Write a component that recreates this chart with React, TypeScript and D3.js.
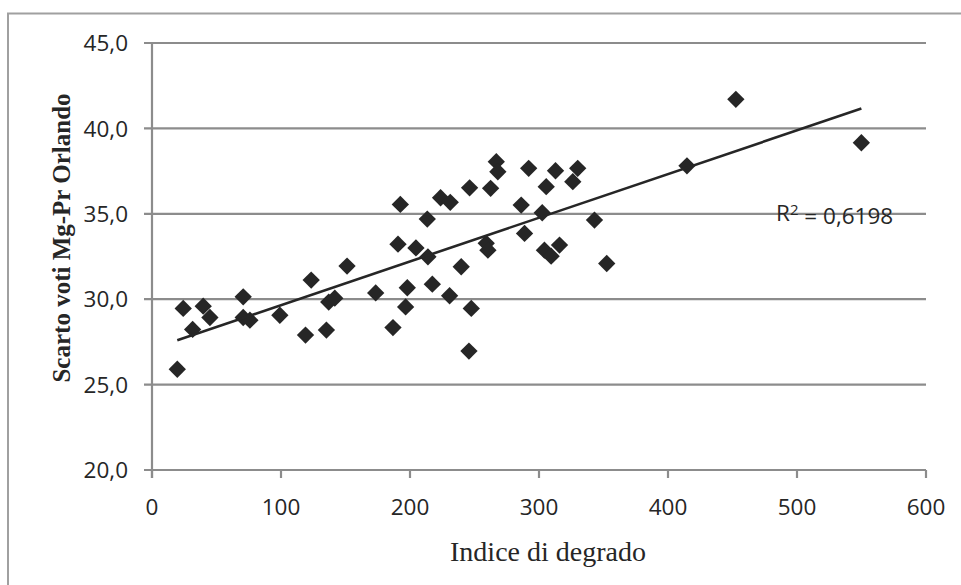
import React from "react";
import * as d3 from "d3";

const indiceDegrado: number[] = [
  19.6, 24.2, 31.5, 39.7, 44.9, 70.7, 70.7, 75.9, 99.1, 119.0,
  123.4, 135.2, 137.0, 141.7, 151.2, 173.4, 186.8, 190.7, 192.5, 196.6,
  197.9, 204.6, 213.9, 213.4, 217.3, 223.7, 230.7, 231.2, 239.7, 245.7,
  246.2, 247.5, 259.1, 260.4, 262.5, 266.9, 268.1, 286.2, 288.8, 292.0,
  302.5, 305.6, 304.2, 309.4, 315.9, 312.8, 326.2, 330.0, 343.0, 352.5,
  414.7, 452.6, 549.9,
];
const scartoVoti: number[] = [
  25.9, 29.46, 28.23, 29.59, 28.93, 30.14, 28.93, 28.77, 29.06, 27.9,
  31.12, 28.19, 29.83, 30.06, 31.94, 30.37, 28.34, 33.22, 35.55, 29.55,
  30.67, 33.0, 32.48, 34.69, 30.88, 35.94, 30.2, 35.67, 31.9, 26.96,
  36.52, 29.46, 33.27, 32.87, 36.49, 38.05, 37.46, 35.51, 33.85, 37.66,
  35.06, 36.59, 32.87, 32.52, 33.17, 37.52, 36.88, 37.66, 34.63, 32.09,
  37.81, 41.7, 39.16,
];
const xTicks: number[] = [0, 100, 200, 300, 400, 500, 600];
const yTicks: number[] = [20, 25, 30, 35, 40, 45];
const xTitle = "Indice di degrado";
const yTitle = "Scarto voti Mg-Pr Orlando";
const r2Label = "0,6198";

export default function App() {
  const W = 961, H = 585;
  const left = 152, right = 926, top = 43, bottom = 470;
  const x = d3.scaleLinear().domain([0, 600]).range([left, right]);
  const y = d3.scaleLinear().domain([20, 45]).range([bottom, top]);

  const n = indiceDegrado.length;
  const mx = d3.mean(indiceDegrado)!;
  const my = d3.mean(scartoVoti)!;
  let sxy = 0, sxx = 0;
  for (let i = 0; i < n; i++) {
    sxy += (indiceDegrado[i] - mx) * (scartoVoti[i] - my);
    sxx += (indiceDegrado[i] - mx) ** 2;
  }
  const slope = sxy / sxx;
  const intercept = my - slope * mx;
  const [x0, x1] = d3.extent(indiceDegrado) as [number, number];
  const lineGen = d3.line<number>().x((v) => x(v)).y((v) => y(intercept + slope * v));

  const diamond = d3.symbol().type(d3.symbolSquare).size(150)()!;
  const fmt = (v: number) => v.toFixed(1).replace(".", ",");
  const grid = "#8c8c8c";
  const mark = "#262626";
  const tickFont = "'Open Sans', sans-serif";
  const serif = "'Liberation Serif', 'DejaVu Serif', serif";

  return (
    <svg width={W} height={H} style={{ position: "absolute", left: 0, top: 0, background: "#fff" }}>
      <rect x={0} y={0} width={W} height={H} fill="#fff" />
      <path d={`M8,${H + 5} V13.5 H${W + 5}`} fill="none" stroke="#a0a0a0" strokeWidth={2} />
      {yTicks.map((t) => (
        <g key={"y" + t}>
          <line x1={left - 8} x2={right} y1={y(t)} y2={y(t)} stroke={grid} strokeWidth={2.2} />
          <text x={128} y={y(t)} dy="0.36em" textAnchor="end" fontFamily={tickFont} fontSize={22.5} fill="#262626">
            {fmt(t)}
          </text>
        </g>
      ))}
      <line x1={left} x2={left} y1={top} y2={bottom + 8} stroke={grid} strokeWidth={2.2} />
      {xTicks.map((t) => (
        <g key={"x" + t}>
          <line x1={x(t)} x2={x(t)} y1={bottom} y2={bottom + 8} stroke={grid} strokeWidth={2.2} />
          <text x={x(t)} y={507} dy="0.36em" textAnchor="middle" fontFamily={tickFont} fontSize={22.5} fill="#262626">
            {t}
          </text>
        </g>
      ))}
      {indiceDegrado.map((v, i) => (
        <path
          key={"p" + i}
          d={diamond}
          transform={`translate(${x(v)},${y(scartoVoti[i])}) rotate(45)`}
          fill={mark}
        />
      ))}
      <path d={lineGen([x0, x1]) || ""} fill="none" stroke={mark} strokeWidth={2.6} />
      <text x={776} y={213} dy="0.36em" fontFamily={tickFont} fontSize={22.5} fill="#262626">
        R<tspan dy="-0.4em" fontSize={15}>2</tspan>
        <tspan dy="0.4em"> = {r2Label}</tspan>
      </text>
      <text x={548} y={552} dy="0.32em" textAnchor="middle" fontFamily={serif} fontSize={28} fill="#262626">
        {xTitle}
      </text>
      <text
        transform={`translate(62,238) rotate(-90)`}
        dy="0.32em"
        textAnchor="middle"
        fontFamily={serif}
        fontWeight="bold"
        fontSize={25}
        fill="#262626"
      >
        {yTitle}
      </text>
    </svg>
  );
}
